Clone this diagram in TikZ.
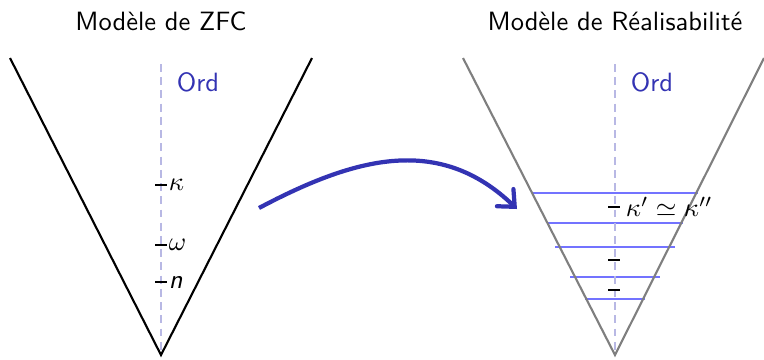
\documentclass[tikz,border=0pt]{standalone}
\usepackage{fontspec}
\usepackage{amsmath, amssymb}
\usepackage{xcolor}
\usepackage{tikz}
\usetikzlibrary{arrows.meta, positioning}
\definecolor{structure}{HTML}{3333B3}
\definecolor{edgegray}{HTML}{7F7F7F}

\begin{document}
\begin{tikzpicture}[
    x=0.378pt, y=-0.378pt,
    font=\sffamily,
    title/.style={font=\sffamily},
    axis/.style={dashed, dash pattern=on 3pt off 2pt, structure!35, line width=0.5pt},
    ordlabel/.style={text=structure},
    tick/.style={line width=0.5pt},
    ticklabel/.style={right, inner sep=0.5pt},
    level/.style={blue!55, line width=0.4pt},
    bigarrow/.style={-{Straight Barb[length=5pt, width=9pt, line cap=round]}, line width=1.6pt, structure},
]
    \useasboundingbox (0,0) rectangle (764,359);

    % Titles
    \node[title] (tzfc) at (161,21) {Modèle de ZFC};
    \node[title] (trea) at (615,21) {Modèle de Réalisabilité};

    % Left cone (ZFC)
    \coordinate (zbot) at (161,355);
    \draw[line width=0.8pt] (10,58) -- (zbot) -- (312,58);
    \draw[axis] (161,64) -- (zbot);
    \node[ordlabel] (zord) at (198,82) {Ord};

    % Ordinals in ZFC
    \draw[tick] (155,185) -- (167,185) node[ticklabel] (zkappa) {$\kappa$};
    \draw[tick] (155,245) -- (167,245) node[ticklabel] (zomega) {$\omega$};
    \draw[tick] (155,282) -- (167,282) node[ticklabel] (zn) {\textit{n}};

    % Right cone (realizability)
    \coordinate (rbot) at (615,355);
    \foreach \y/\w in {193/83, 223/68, 247/60, 277/45, 299/30}
        \draw[level] ({615-\w},\y) -- ({615+\w},\y);
    \draw[edgegray, line width=0.8pt] (463,58) -- (rbot) -- (764,58);
    \draw[axis] (615,64) -- (rbot);
    \node[ordlabel] (rord) at (652,82) {Ord};

    % Ordinals in the realizability model
    \draw[tick] (608,207) -- (620,207) node[ticklabel, right=1.5pt] (rkappa) {$\kappa' \simeq \kappa''$};
    \draw[tick] (608,260) -- (620,260);
    \draw[tick] (608,290) -- (620,290);

    % Arrow between models
    \coordinate (astart) at (259,208);
    \coordinate (aend) at (517,209);
    \draw[bigarrow] (astart) .. controls (357,156) and (440,135) .. (aend);
\end{tikzpicture}
\end{document}
